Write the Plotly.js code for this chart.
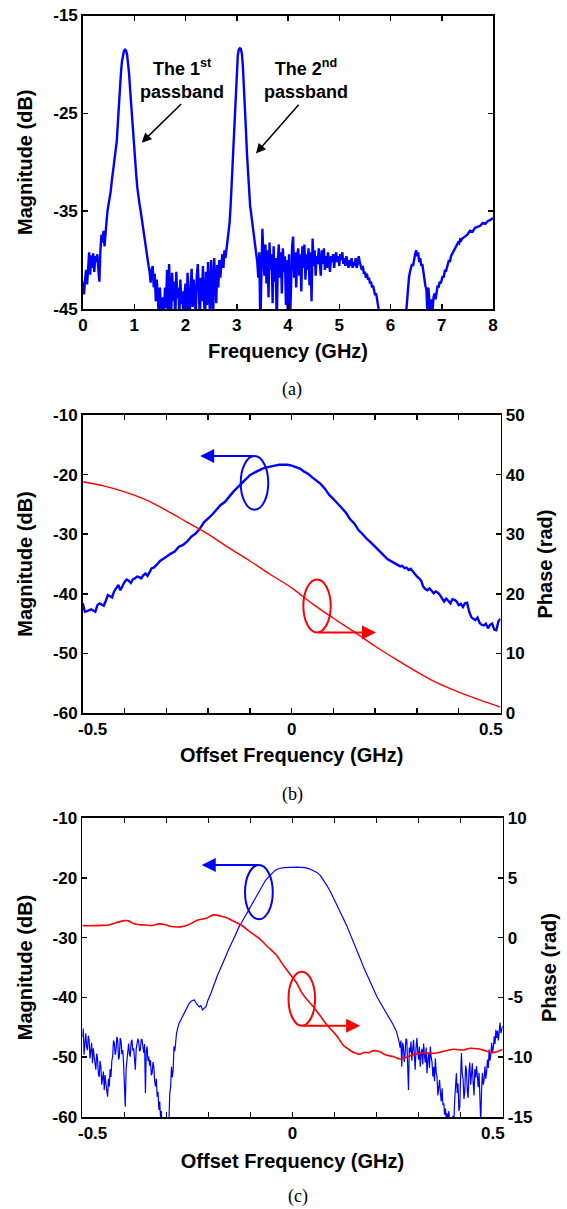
<!DOCTYPE html>
<html>
<head>
<meta charset="utf-8">
<script src="https://cdn.plot.ly/plotly-3.0.1.min.js"></script>
<style>html,body{margin:0;padding:0;background:#fff}#chart{width:567px;height:1209px}</style>
</head>
<body>
<div id="chart"></div>
<script>
// ---------- Panel (a): magnitude vs frequency ----------
const freqA = [0.00,0.02,0.04,0.06,0.08,0.10,0.12,0.14,0.16,0.18,0.20,0.22,0.24,0.26,0.28,0.30,0.32,0.34,0.36,0.38,0.40,0.42,0.44,0.46,0.48,0.50,0.52,0.54,0.56,0.58,0.60,0.62,0.64,0.66,0.68,0.70,0.72,0.74,0.76,0.78,0.80,0.82,0.84,0.86,0.88,0.90,0.92,0.94,0.96,0.98,1.00,1.02,1.04,1.06,1.08,1.10,1.12,1.14,1.16,1.18,1.20,1.22,1.24,1.26,1.28,1.30,1.32,1.34,1.36,1.38,1.40,1.42,1.44,1.46,1.48,1.50,1.52,1.54,1.56,1.58,1.60,1.62,1.64,1.66,1.68,1.70,1.72,1.74,1.76,1.78,1.80,1.82,1.84,1.86,1.88,1.90,1.92,1.94,1.96,1.98,2.00,2.02,2.04,2.06,2.08,2.10,2.12,2.14,2.16,2.18,2.20,2.22,2.24,2.26,2.28,2.30,2.32,2.34,2.36,2.38,2.40,2.42,2.44,2.46,2.48,2.50,2.52,2.54,2.56,2.58,2.60,2.62,2.64,2.66,2.68,2.70,2.72,2.74,2.76,2.78,2.80,2.82,2.84,2.86,2.88,2.90,2.92,2.94,2.96,2.98,3.00,3.02,3.04,3.06,3.08,3.10,3.12,3.14,3.16,3.18,3.20,3.22,3.24,3.26,3.28,3.30,3.32,3.34,3.36,3.38,3.40,3.42,3.44,3.46,3.48,3.50,3.52,3.54,3.56,3.58,3.60,3.62,3.64,3.66,3.68,3.70,3.72,3.74,3.76,3.78,3.80,3.82,3.84,3.86,3.88,3.90,3.92,3.94,3.96,3.98,4.00,4.02,4.04,4.06,4.08,4.10,4.12,4.14,4.16,4.18,4.20,4.22,4.24,4.26,4.28,4.30,4.32,4.34,4.36,4.38,4.40,4.42,4.44,4.46,4.48,4.50,4.52,4.54,4.56,4.58,4.60,4.62,4.64,4.66,4.68,4.70,4.72,4.74,4.76,4.78,4.80,4.82,4.84,4.86,4.88,4.90,4.92,4.94,4.96,4.98,5.00,5.02,5.04,5.06,5.08,5.10,5.12,5.14,5.16,5.18,5.20,5.22,5.24,5.26,5.28,5.30,5.32,5.34,5.36,5.38,5.40,5.42,5.44,5.46,5.48,5.50,5.52,5.54,5.56,5.58,5.60,5.62,5.64,5.66,5.68,5.70,5.72,5.74,5.76,5.78,5.80,5.82,5.90,6.00,6.10,6.20,6.28,6.32,6.34,6.36,6.38,6.40,6.42,6.44,6.46,6.48,6.50,6.52,6.54,6.56,6.58,6.60,6.62,6.64,6.66,6.68,6.70,6.72,6.74,6.76,6.78,6.80,6.82,6.84,6.86,6.88,6.90,6.92,6.94,6.96,6.98,7.00,7.02,7.04,7.06,7.08,7.10,7.12,7.14,7.16,7.18,7.20,7.22,7.24,7.26,7.28,7.30,7.32,7.34,7.36,7.38,7.40,7.45,7.50,7.55,7.60,7.65,7.70,7.75,7.80,7.85,7.90,7.95,8.00];
const magA = [-42.2,-43.5,-42.0,-41.0,-42.5,-40.5,-39.2,-41.5,-39.5,-40.8,-39.3,-41.2,-39.6,-40.2,-39.4,-41.0,-42.2,-39.0,-37.4,-38.2,-37.0,-38.6,-36.6,-36.0,-34.9,-34.3,-33.8,-33.0,-32.0,-31.2,-30.6,-29.5,-28.8,-27.8,-26.0,-24.0,-22.3,-20.9,-19.7,-19.0,-18.6,-18.5,-18.6,-19.0,-19.8,-21.0,-22.6,-24.2,-25.8,-27.2,-28.6,-30.0,-31.4,-32.6,-33.6,-34.2,-34.8,-35.6,-36.3,-37.0,-37.6,-38.4,-39.0,-39.8,-40.6,-41.2,-42.3,-41.0,-40.6,-42.8,-41.4,-44.2,-42.0,-43.6,-46.5,-42.8,-44.6,-47.0,-43.8,-45.5,-42.8,-44.9,-41.0,-46.5,-40.4,-43.5,-45.8,-41.3,-44.2,-42.2,-46.8,-41.2,-43.9,-42.8,-45.6,-42.0,-44.5,-43.2,-46.0,-43.6,-42.4,-45.2,-41.3,-44.0,-46.5,-42.6,-40.9,-44.8,-42.0,-43.6,-45.8,-41.6,-40.4,-43.0,-46.2,-41.8,-44.2,-40.6,-43.4,-46.8,-41.2,-44.6,-40.2,-42.9,-46.0,-40.0,-42.6,-45.8,-39.8,-42.4,-44.4,-40.5,-42.8,-40.0,-41.8,-40.4,-39.4,-40.8,-39.0,-39.8,-38.9,-37.8,-37.2,-36.2,-34.5,-32.2,-29.8,-27.2,-24.6,-22.2,-20.4,-19.1,-18.5,-18.35,-18.4,-18.9,-20.2,-22.0,-24.4,-26.8,-29.2,-31.4,-33.2,-34.4,-35.2,-36.0,-36.8,-37.6,-38.4,-39.6,-40.2,-41.8,-39.2,-47.0,-40.0,-36.8,-39.6,-41.6,-38.4,-42.4,-39.0,-43.8,-38.2,-41.0,-39.4,-44.4,-38.6,-42.2,-39.8,-47.0,-40.4,-38.4,-41.8,-39.2,-43.4,-38.8,-41.2,-39.6,-44.6,-40.0,-47.0,-39.4,-46.5,-40.6,-38.6,-37.6,-41.8,-39.2,-42.8,-39.6,-38.8,-41.6,-39.4,-43.2,-38.6,-40.8,-38.4,-42.0,-39.4,-41.0,-38.8,-42.6,-39.2,-44.2,-37.8,-40.6,-39.0,-41.6,-39.6,-40.4,-38.8,-40.2,-41.6,-39.0,-40.4,-38.8,-41.0,-39.6,-40.8,-39.2,-40.0,-41.2,-39.6,-40.2,-39.4,-40.8,-39.8,-39.2,-40.2,-39.6,-40.6,-39.4,-40.0,-39.2,-40.4,-39.8,-40.6,-39.6,-40.2,-40.8,-40.0,-40.6,-39.8,-40.8,-40.2,-40.6,-39.8,-40.8,-40.4,-39.6,-40.2,-40.8,-41.0,-40.6,-41.4,-41.2,-41.8,-41.4,-42.0,-41.8,-42.4,-42.2,-42.8,-42.6,-43.2,-43.6,-43.4,-44.0,-44.6,-45.4,-46.6,-48.0,-50.0,-52.0,-52.0,-50.0,-47.0,-44.0,-42.6,-41.8,-41.2,-40.8,-40.4,-40.6,-39.8,-39.4,-39.0,-39.6,-39.2,-40.2,-39.8,-40.6,-40.4,-41.2,-41.8,-42.6,-43.0,-45.4,-42.8,-44.2,-46.0,-44.0,-45.2,-43.8,-43.4,-44.0,-43.0,-42.6,-42.8,-42.2,-42.4,-41.8,-41.6,-41.8,-41.0,-41.2,-40.6,-40.4,-40.0,-40.2,-39.6,-39.4,-39.2,-38.9,-38.8,-38.5,-38.4,-38.2,-38.3,-37.9,-38.0,-37.8,-37.6,-37.4,-37.0,-37.1,-36.7,-36.6,-36.5,-36.2,-36.3,-36.0,-35.9,-35.7];
const ticksA_x = [0,1,2,3,4,5,6,7,8];
const ticksA_y = [-45,-35,-25,-15];

// ---------- Panel (b) ----------
const offB_mag = [-0.50,-0.495,-0.49,-0.485,-0.48,-0.475,-0.47,-0.465,-0.46,-0.455,-0.45,-0.445,-0.44,-0.435,-0.43,-0.425,-0.42,-0.415,-0.41,-0.405,-0.40,-0.395,-0.39,-0.385,-0.38,-0.375,-0.37,-0.365,-0.36,-0.355,-0.35,-0.345,-0.34,-0.335,-0.33,-0.325,-0.32,-0.315,-0.31,-0.30,-0.29,-0.28,-0.27,-0.26,-0.25,-0.24,-0.23,-0.22,-0.21,-0.20,-0.19,-0.18,-0.17,-0.16,-0.15,-0.14,-0.13,-0.12,-0.11,-0.10,-0.09,-0.08,-0.07,-0.06,-0.05,-0.04,-0.03,-0.02,-0.01,0.00,0.01,0.02,0.03,0.04,0.05,0.06,0.07,0.08,0.09,0.10,0.11,0.12,0.13,0.14,0.15,0.16,0.17,0.18,0.19,0.20,0.21,0.22,0.23,0.24,0.25,0.255,0.26,0.265,0.27,0.275,0.28,0.285,0.29,0.295,0.30,0.305,0.31,0.315,0.32,0.325,0.33,0.335,0.34,0.345,0.35,0.355,0.36,0.365,0.37,0.375,0.38,0.385,0.39,0.395,0.40,0.405,0.41,0.415,0.42,0.425,0.43,0.435,0.44,0.445,0.45,0.455,0.46,0.465,0.47,0.475,0.48,0.485,0.49,0.495,0.50];
const magB = [-41.6,-43.0,-42.9,-42.7,-42.6,-42.8,-43.0,-41.9,-41.6,-41.8,-42.0,-41.2,-40.2,-40.4,-40.6,-39.6,-39.0,-38.5,-39.4,-38.6,-38.0,-37.6,-37.8,-38.2,-37.6,-37.4,-37.1,-37.2,-37.4,-36.9,-36.6,-37.0,-36.4,-35.7,-35.6,-35.3,-34.9,-34.5,-34.3,-33.8,-33.3,-32.9,-32.1,-31.8,-31.2,-30.4,-29.9,-29.1,-28.0,-27.4,-26.7,-25.9,-25.1,-24.6,-23.7,-22.9,-22.2,-21.5,-20.7,-20.1,-19.7,-19.3,-19.0,-18.8,-18.6,-18.5,-18.35,-18.3,-18.35,-18.5,-18.7,-19.0,-19.5,-19.9,-20.5,-21.0,-21.6,-22.4,-23.4,-24.1,-24.8,-25.6,-26.4,-27.5,-28.2,-29.3,-30.0,-30.8,-31.4,-32.1,-32.7,-33.4,-34.2,-34.6,-35.0,-35.2,-35.4,-35.3,-35.7,-35.6,-36.0,-35.8,-36.3,-36.8,-37.1,-37.4,-37.8,-38.8,-39.2,-39.4,-39.1,-39.5,-39.9,-39.6,-39.8,-40.2,-40.8,-41.3,-40.8,-41.2,-41.6,-40.9,-41.0,-41.3,-41.9,-41.7,-42.2,-41.6,-41.5,-43.0,-43.9,-44.2,-44.4,-44.0,-44.9,-45.2,-45.3,-45.0,-45.8,-45.2,-45.0,-46.0,-46.1,-44.6,-44.2];
const offB_phase = [-0.50,-0.45,-0.40,-0.35,-0.30,-0.25,-0.20,-0.15,-0.10,-0.05,0.00,0.05,0.10,0.15,0.20,0.25,0.30,0.35,0.40,0.45,0.50];
const phaseB = [38.8,38.1,37.1,35.8,34.0,32.0,30.0,27.7,25.5,23.2,21.0,18.3,15.9,13.6,11.2,9.0,6.9,5.0,3.5,2.2,1.0];

// ---------- Panel (c) ----------
const offC_mag = [-0.500,-0.498,-0.496,-0.494,-0.492,-0.490,-0.488,-0.486,-0.484,-0.482,-0.480,-0.478,-0.476,-0.474,-0.472,-0.470,-0.468,-0.466,-0.464,-0.462,-0.460,-0.458,-0.456,-0.454,-0.452,-0.450,-0.448,-0.446,-0.444,-0.442,-0.440,-0.438,-0.436,-0.434,-0.432,-0.430,-0.428,-0.426,-0.424,-0.422,-0.420,-0.418,-0.416,-0.414,-0.412,-0.410,-0.408,-0.406,-0.404,-0.402,-0.400,-0.398,-0.396,-0.394,-0.392,-0.390,-0.388,-0.386,-0.384,-0.382,-0.380,-0.378,-0.376,-0.374,-0.372,-0.370,-0.368,-0.366,-0.364,-0.362,-0.360,-0.358,-0.356,-0.354,-0.352,-0.350,-0.348,-0.346,-0.344,-0.342,-0.340,-0.338,-0.336,-0.334,-0.332,-0.330,-0.328,-0.326,-0.324,-0.322,-0.320,-0.318,-0.316,-0.314,-0.312,-0.310,-0.305,-0.300,-0.296,-0.294,-0.292,-0.290,-0.288,-0.286,-0.284,-0.282,-0.280,-0.278,-0.276,-0.274,-0.270,-0.266,-0.262,-0.258,-0.254,-0.250,-0.246,-0.242,-0.238,-0.234,-0.230,-0.226,-0.222,-0.218,-0.214,-0.210,-0.206,-0.202,-0.198,-0.194,-0.190,-0.186,-0.182,-0.178,-0.174,-0.170,-0.166,-0.162,-0.158,-0.154,-0.150,-0.146,-0.142,-0.138,-0.134,-0.130,-0.126,-0.122,-0.118,-0.114,-0.110,-0.106,-0.102,-0.098,-0.094,-0.090,-0.085,-0.080,-0.075,-0.070,-0.065,-0.060,-0.055,-0.050,-0.045,-0.040,-0.035,-0.030,-0.020,-0.010,0.000,0.010,0.020,0.030,0.040,0.050,0.058,0.066,0.074,0.082,0.090,0.098,0.105,0.113,0.121,0.129,0.137,0.145,0.153,0.161,0.169,0.177,0.185,0.193,0.201,0.209,0.217,0.225,0.232,0.240,0.248,0.252,0.254,0.256,0.258,0.260,0.262,0.264,0.266,0.268,0.270,0.272,0.274,0.276,0.278,0.280,0.282,0.284,0.286,0.288,0.290,0.292,0.294,0.296,0.298,0.300,0.302,0.304,0.306,0.308,0.310,0.312,0.314,0.316,0.318,0.320,0.322,0.324,0.326,0.328,0.330,0.332,0.334,0.336,0.338,0.340,0.342,0.344,0.346,0.348,0.350,0.352,0.354,0.356,0.358,0.360,0.362,0.364,0.366,0.368,0.370,0.372,0.374,0.376,0.378,0.380,0.382,0.384,0.386,0.388,0.390,0.392,0.394,0.396,0.398,0.400,0.402,0.404,0.406,0.408,0.410,0.412,0.414,0.416,0.418,0.420,0.422,0.424,0.426,0.428,0.430,0.432,0.434,0.436,0.438,0.440,0.442,0.444,0.446,0.448,0.450,0.452,0.454,0.456,0.458,0.460,0.462,0.464,0.466,0.468,0.470,0.472,0.474,0.476,0.478,0.480,0.482,0.484,0.486,0.488,0.490,0.492,0.494,0.496,0.498,0.500];
const magC = [-46.6,-45.2,-49.6,-47.3,-46.0,-48.2,-48.8,-46.4,-47.1,-50.2,-49.3,-47.6,-51.0,-48.5,-49.9,-51.8,-52.1,-49.4,-50.2,-52.8,-53.3,-50.6,-51.6,-54.6,-53.8,-52.4,-55.5,-53.0,-54.4,-56.2,-56.6,-53.6,-54.9,-52.0,-53.3,-50.6,-49.9,-47.2,-47.7,-49.6,-48.8,-46.6,-47.1,-50.4,-49.9,-46.8,-47.3,-49.5,-48.8,-51.0,-53.8,-58.3,-52.0,-50.5,-48.0,-47.7,-49.5,-49.9,-47.4,-47.1,-48.9,-48.5,-50.2,-52.1,-48.6,-47.7,-46.9,-47.4,-49.0,-48.8,-47.0,-47.1,-48.7,-49.3,-47.8,-56.0,-49.0,-48.2,-50.6,-49.9,-51.4,-50.5,-53.0,-52.7,-50.8,-51.6,-54.0,-54.9,-53.6,-56.6,-55.8,-58.8,-57.4,-60.2,-59.0,-63.0,-64.0,-62.5,-61.0,-60.5,-56.0,-54.9,-51.6,-53.4,-52.1,-48.2,-49.0,-47.1,-46.0,-45.4,-44.3,-43.8,-43.2,-42.7,-42.0,-41.5,-41.0,-40.7,-40.5,-40.4,-40.9,-41.3,-41.6,-41.4,-42.1,-41.8,-41.6,-40.6,-40.0,-39.3,-38.5,-37.7,-36.8,-36.2,-35.6,-35.0,-34.3,-33.7,-33.0,-32.3,-31.6,-31.0,-30.5,-29.9,-29.2,-28.6,-28.0,-27.6,-27.1,-26.6,-26.1,-25.5,-24.9,-24.4,-23.9,-23.4,-22.9,-22.2,-21.6,-21.0,-20.5,-20.1,-19.7,-19.3,-19.0,-18.7,-18.5,-18.4,-18.3,-18.25,-18.2,-18.2,-18.25,-18.3,-18.5,-18.8,-19.1,-19.6,-20.4,-21.3,-22.3,-23.4,-24.5,-25.6,-26.8,-28.0,-29.3,-30.7,-32.1,-33.5,-34.9,-36.2,-37.6,-38.8,-39.9,-40.9,-41.8,-42.7,-43.5,-44.6,-45.8,-46.8,-47.5,-48.4,-47.2,-51.6,-47.6,-48.2,-50.8,-49.4,-46.9,-47.1,-50.2,-55.5,-48.4,-49.2,-47.4,-50.6,-48.8,-47.1,-49.6,-52.1,-48.4,-46.8,-49.0,-50.4,-48.2,-51.6,-49.4,-48.6,-51.2,-47.7,-49.6,-50.9,-48.4,-52.7,-50.6,-49.2,-51.8,-48.2,-50.0,-50.8,-53.2,-51.6,-54.0,-50.2,-52.6,-53.3,-56.4,-55.5,-53.8,-56.0,-57.4,-55.2,-58.0,-57.7,-59.6,-58.6,-60.4,-59.4,-61.0,-59.0,-60.5,-62.0,-60.2,-62.0,-59.8,-60.8,-57.1,-55.0,-52.7,-56.0,-54.4,-59.0,-58.3,-53.5,-49.3,-52.8,-53.6,-57.0,-55.8,-51.4,-52.2,-55.6,-56.8,-52.4,-50.9,-54.6,-53.2,-51.0,-54.3,-56.4,-52.0,-53.4,-51.5,-54.2,-55.0,-52.6,-57.5,-61.0,-55.4,-52.6,-54.6,-53.8,-51.5,-53.6,-52.4,-50.4,-51.8,-48.7,-50.6,-49.6,-47.6,-49.2,-48.4,-46.5,-47.8,-45.4,-46.8,-45.6,-47.2,-45.4,-44.2,-46.0,-45.0,-44.8];
const offC_phase = [-0.500,-0.470,-0.455,-0.438,-0.420,-0.400,-0.390,-0.380,-0.369,-0.350,-0.335,-0.317,-0.300,-0.292,-0.266,-0.249,-0.235,-0.227,-0.205,-0.188,-0.171,-0.156,-0.145,-0.130,-0.117,-0.100,-0.080,-0.061,-0.040,-0.020,-0.005,0.010,0.022,0.035,0.050,0.065,0.082,0.095,0.105,0.113,0.121,0.130,0.140,0.150,0.160,0.170,0.182,0.193,0.208,0.221,0.240,0.256,0.268,0.280,0.295,0.312,0.325,0.343,0.360,0.383,0.407,0.423,0.440,0.458,0.475,0.490,0.500];
const phaseC = [1.0,1.0,1.02,1.06,1.25,1.42,1.40,1.2,1.09,1.05,1.01,1.15,1.05,0.95,0.9,1.05,1.3,1.45,1.62,1.9,1.8,1.65,1.45,1.2,0.93,0.45,-0.05,-0.7,-1.4,-2.4,-3.1,-3.8,-4.6,-5.2,-5.8,-6.5,-7.3,-7.8,-8.2,-8.6,-9.0,-9.25,-9.5,-9.65,-9.75,-9.6,-9.62,-9.45,-9.55,-9.8,-9.95,-10.15,-10.05,-9.87,-9.75,-9.62,-9.68,-9.65,-9.5,-9.34,-9.4,-9.25,-9.3,-9.45,-9.63,-9.5,-9.35];

// Offset-frequency axes: ticks every 0.1; the labels -0.5 / 0 / 0.5 (edge labels drawn inset, as in the figure)
const offsetTickVals = [-0.5,-0.4,-0.3,-0.2,-0.1,0,0.1,0.2,0.3,0.4,0.5];
const offsetTickText = ['','','','','','0','','','','',''];
const offsetEdgeVals = [-0.5, 0.5];
const offsetEdgeText = ['-0.5', '0.5'];
const magTicksBC = [-60,-50,-40,-30,-20,-10];
const phaseTicksB = [0,10,20,30,40,50];
const phaseTicksC = [-15,-10,-5,0,5,10];
const captions = ['(a)','(b)','(c)'];

const BLUE = '#0000ff', RED = '#ff0000';
const FAM = 'Arial, "Liberation Sans", sans-serif';
const tickFont = {family: FAM, size: 17, color: '#000'};
const titleFont = {family: FAM, size: 20, color: '#000', weight: 'bold'};
const bold = v => v === '' ? '' : '<b>' + v + '</b>';
const labels = arr => arr.map(v => bold(String(v)));
const SERIF = {family: '"Liberation Serif", "Times New Roman", serif', size: 18, color: '#000'};

function axisBase(extra) {
  return Object.assign({
    showline: true, linecolor: '#000', linewidth: 1.8, mirror: 'ticks',
    ticks: 'inside', ticklen: 5, tickwidth: 1.5, tickcolor: '#000',
    showgrid: false, zeroline: false, tickfont: tickFont, fixedrange: true
  }, extra);
}

const traces = [
  {x: freqA, y: magA, xaxis: 'x', yaxis: 'y', mode: 'lines', line: {color: BLUE, width: 2.4}},
  {x: offB_mag, y: magB, xaxis: 'x2', yaxis: 'y2', mode: 'lines', line: {color: BLUE, width: 2.4}},
  {x: offB_phase, y: phaseB, xaxis: 'x2', yaxis: 'y3', mode: 'lines', line: {color: RED, width: 1.4, shape: 'spline'}},
  {x: offC_mag, y: magC, xaxis: 'x3', yaxis: 'y4', mode: 'lines', line: {color: BLUE, width: 1.2}},
  {x: offC_phase, y: phaseC, xaxis: 'x3', yaxis: 'y5', mode: 'lines', line: {color: RED, width: 1.6, shape: 'spline'}}
];

const edgeLabels = [];
[['x2', 'y2 domain'], ['x3', 'y4 domain']].forEach(([xr, yr]) => {
  offsetEdgeVals.forEach((v, i) => {
    edgeLabels.push({xref: xr, yref: yr, x: v, y: 0, xanchor: 'center', yanchor: 'middle',
      xshift: v < 0 ? 10 : -10, yshift: -16, text: bold(offsetEdgeText[i]), showarrow: false, font: tickFont});
  });
});

const layout = {
  width: 567, height: 1209, margin: {l: 0, r: 0, t: 0, b: 0},
  paper_bgcolor: '#fff', plot_bgcolor: '#fff', showlegend: false,
  xaxis: axisBase({domain: [83/567, 493/567], range: [0, 8], tickvals: ticksA_x, ticktext: labels(ticksA_x), anchor: 'y',
    title: {text: 'Frequency (GHz)', font: titleFont, standoff: 10}}),
  yaxis: axisBase({domain: [1-309/1209, 1-15.5/1209], range: [-45, -15], tickvals: ticksA_y, ticktext: labels(ticksA_y), anchor: 'x',
    title: {text: 'Magnitude (dB)', font: titleFont, standoff: 15}}),
  xaxis2: axisBase({domain: [82.8/567, 500.5/567], range: [-0.5, 0.5], tickvals: offsetTickVals, ticktext: offsetTickText.map(bold), anchor: 'y2',
    title: {text: 'Offset Frequency (GHz)', font: titleFont, standoff: 10}}),
  yaxis2: axisBase({domain: [1-713/1209, 1-415/1209], range: [-60, -10], tickvals: magTicksBC, ticktext: labels(magTicksBC), anchor: 'x2', mirror: false,
    title: {text: 'Magnitude (dB)', font: titleFont, standoff: 15}}),
  yaxis3: axisBase({range: [0, 50], tickvals: phaseTicksB, ticktext: labels(phaseTicksB), overlaying: 'y2', side: 'right', anchor: 'x2', mirror: false,
    title: {text: 'Phase (rad)', font: titleFont, standoff: 14}}),
  xaxis3: axisBase({domain: [82.4/567, 502.6/567], range: [-0.5, 0.5], tickvals: offsetTickVals, ticktext: offsetTickText.map(bold), anchor: 'y4',
    title: {text: 'Offset Frequency (GHz)', font: titleFont, standoff: 12}}),
  yaxis4: axisBase({domain: [1-1117/1209, 1-818/1209], range: [-60, -10], tickvals: magTicksBC, ticktext: labels(magTicksBC), anchor: 'x3', mirror: false,
    title: {text: 'Magnitude (dB)', font: titleFont, standoff: 15}}),
  yaxis5: axisBase({range: [-15, 10], tickvals: phaseTicksC, ticktext: labels(phaseTicksC), overlaying: 'y4', side: 'right', anchor: 'x3', mirror: false,
    title: {text: 'Phase (rad)', font: titleFont, standoff: 11}}),
  shapes: [
    {type: 'circle', xref: 'x2', yref: 'y2', x0: -0.122, x1: -0.056, y0: -25.9, y1: -16.9, line: {color: BLUE, width: 2}},
    {type: 'circle', xref: 'x2', yref: 'y2', x0: 0.028, x1: 0.0935, y0: -46.5, y1: -37.6, line: {color: RED, width: 2}},
    {type: 'circle', xref: 'x3', yref: 'y4', x0: -0.113, x1: -0.047, y0: -26.94, y1: -17.86, line: {color: BLUE, width: 2}},
    {type: 'circle', xref: 'x3', yref: 'y4', x0: -0.0096, x1: 0.0538, y0: -44.73, y1: -35.7, line: {color: RED, width: 2}}
  ],
  annotations: [
    {xref: 'x', yref: 'y', x: 1.94, y: -21.5, xanchor: 'center', yanchor: 'middle', text: '<b>The 1<sup>st</sup></b><br><b>passband</b>', showarrow: false,
      font: {family: FAM, size: 18, color: '#000'}},
    {xref: 'x', yref: 'y', x: 4.36, y: -21.5, xanchor: 'center', yanchor: 'middle', text: '<b>The 2<sup>nd</sup></b><br><b>passband</b>', showarrow: false,
      font: {family: FAM, size: 18, color: '#000'}},
    {xref: 'x', yref: 'y', axref: 'x', ayref: 'y', x: 1.145, y: -28.0, ax: 1.945, ay: -23.9, text: '',
      showarrow: true, arrowhead: 2, arrowsize: 1.3, arrowwidth: 1.5, arrowcolor: '#000', standoff: 0},
    {xref: 'x', yref: 'y', axref: 'x', ayref: 'y', x: 3.375, y: -29.1, ax: 4.234, ay: -23.98, text: '',
      showarrow: true, arrowhead: 2, arrowsize: 1.3, arrowwidth: 1.5, arrowcolor: '#000', standoff: 0},
    {xref: 'x2', yref: 'y2', axref: 'x2', ayref: 'y2', x: -0.219, y: -16.9, ax: -0.089, ay: -16.9, text: '',
      showarrow: true, arrowhead: 2, arrowsize: 1.4, arrowwidth: 2, arrowcolor: BLUE, standoff: 0},
    {xref: 'x2', yref: 'y2', axref: 'x2', ayref: 'y2', x: 0.202, y: -46.5, ax: 0.0607, ay: -46.5, text: '',
      showarrow: true, arrowhead: 2, arrowsize: 1.4, arrowwidth: 2, arrowcolor: RED, standoff: 0},
    {xref: 'x3', yref: 'y4', axref: 'x3', ayref: 'y4', x: -0.216, y: -17.86, ax: -0.08, ay: -17.86, text: '',
      showarrow: true, arrowhead: 2, arrowsize: 1.4, arrowwidth: 2, arrowcolor: BLUE, standoff: 0},
    {xref: 'x3', yref: 'y4', axref: 'x3', ayref: 'y4', x: 0.161, y: -44.73, ax: 0.0221, ay: -44.73, text: '',
      showarrow: true, arrowhead: 2, arrowsize: 1.4, arrowwidth: 2, arrowcolor: RED, standoff: 0},
    {xref: 'paper', yref: 'paper', x: 292/567, y: 1-389/1209, xanchor: 'center', yanchor: 'middle', text: captions[0], showarrow: false, font: SERIF},
    {xref: 'paper', yref: 'paper', x: 292/567, y: 1-794/1209, xanchor: 'center', yanchor: 'middle', text: captions[1], showarrow: false, font: SERIF},
    {xref: 'paper', yref: 'paper', x: 298/567, y: 1-1196/1209, xanchor: 'center', yanchor: 'middle', text: captions[2], showarrow: false, font: SERIF}
  ].concat(edgeLabels)
};

Plotly.newPlot('chart', traces, layout, {staticPlot: true, displayModeBar: false});
</script>
</body>
</html>
